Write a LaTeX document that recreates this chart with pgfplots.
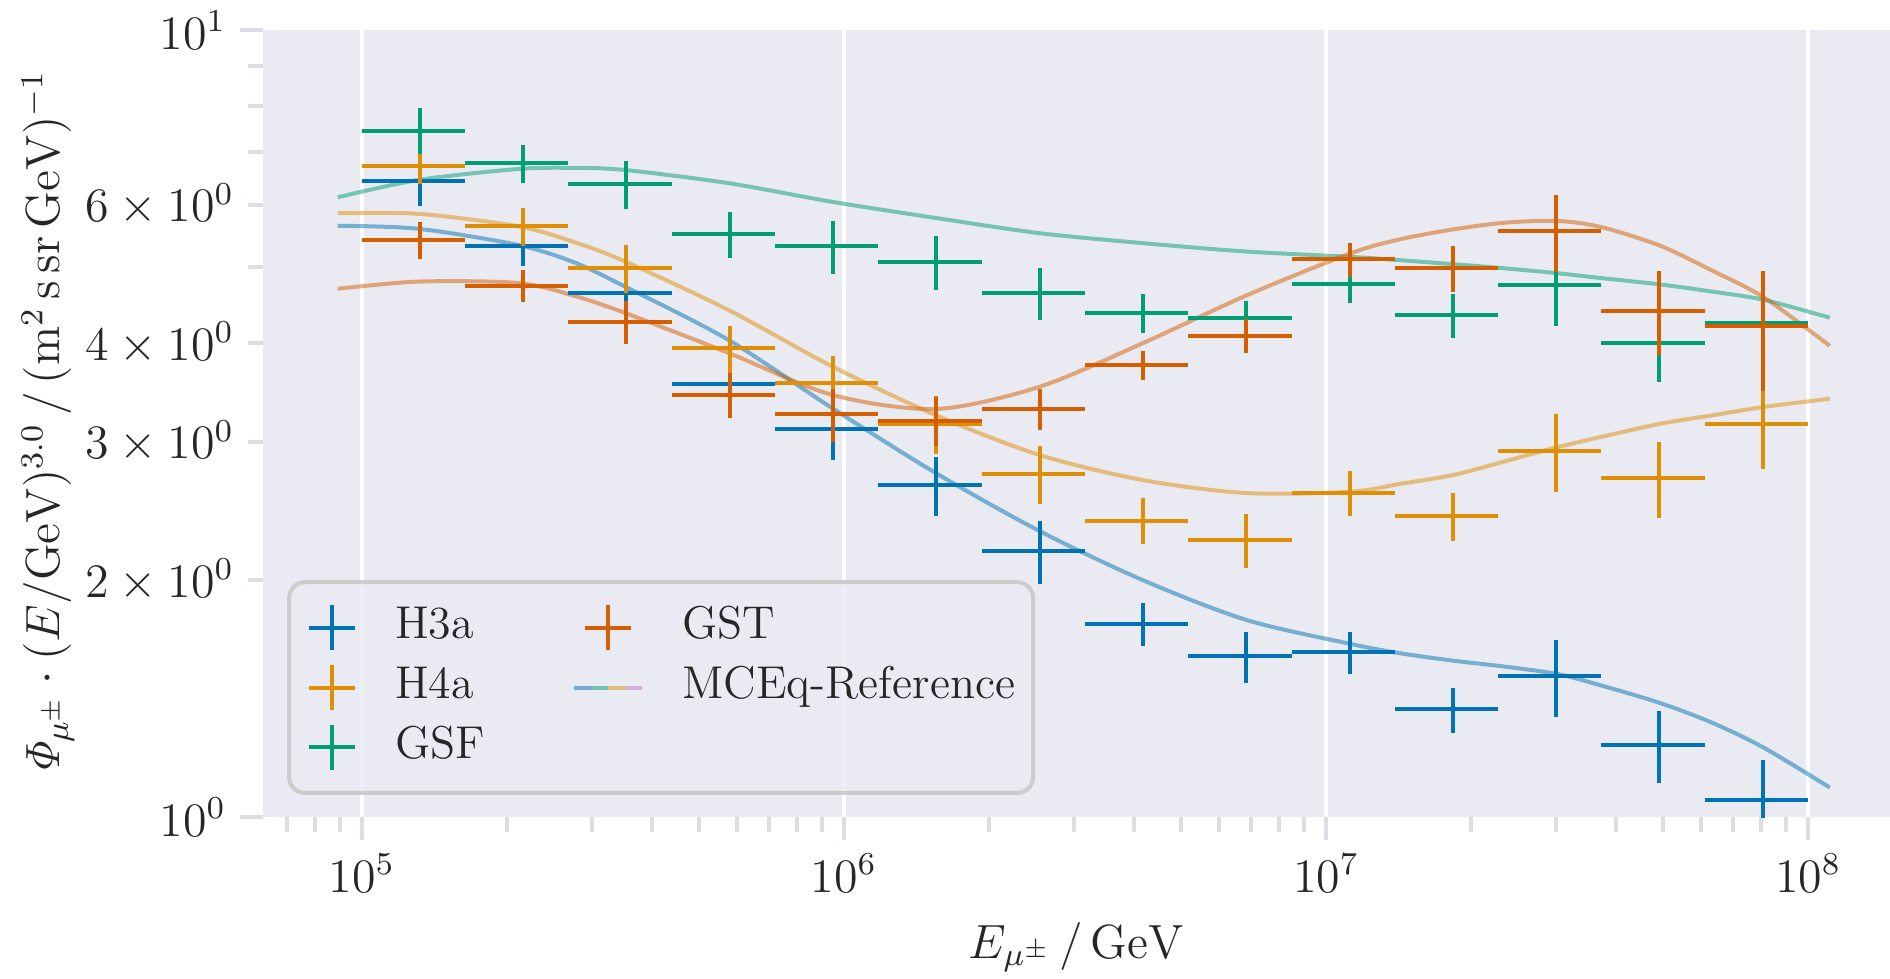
\documentclass[border=0pt]{standalone}
\usepackage{pgfplots}
\pgfplotsset{compat=1.18}
\usepackage{pgfplotstable}
\definecolor{bg}{HTML}{EAEAF2}
\definecolor{cA}{HTML}{0173B2}
\definecolor{cB}{HTML}{DE8F05}
\definecolor{cC}{HTML}{029E73}
\definecolor{cD}{HTML}{D55E00}
\definecolor{cE}{HTML}{CC78BC}
\definecolor{tickc}{HTML}{DDDDE6}
\definecolor{txt}{HTML}{262626}
\definecolor{legc}{HTML}{CCCCCC}

\pgfplotstableread{
x y ex ey
131895 6.43 31895 0.45
216030 5.32 52241 0.30
353834 4.63 85564 0.30
579542 3.55 140145 0.25
949228 3.11 229542 0.27
1554734 2.64 375965 0.23
2546488 2.18 615790 0.20
4170877 1.76 1008599 0.11
6831452 1.60 1651977 0.12
11189192 1.62 2705763 0.10
18326707 1.37 4431752 0.09
30017198 1.51 7258739 0.17
49164980 1.235 11889043 0.13
80527012 1.05 19472989 0.13
}\hthree

\pgfplotstableread{
x y ex ey
131895 6.72 31895 0.34
216030 5.63 52241 0.31
353834 4.98 85564 0.35
579542 3.94 140145 0.27
949228 3.56 229542 0.29
1554734 3.16 375965 0.27
2546488 2.73 615790 0.23
4170877 2.38 1008599 0.16
6831452 2.25 1651977 0.18
11189192 2.58 2705763 0.17
18326707 2.41 4431752 0.17
30017198 2.92 7258739 0.33
49164980 2.70 11889043 0.30
80527012 3.16 19472989 0.39
}\hfour

\pgfplotstableread{
x y ex ey
131895 7.45 31895 0.50
216030 6.77 52241 0.37
353834 6.37 85564 0.44
579542 5.50 140145 0.37
949228 5.31 229542 0.41
1554734 5.07 375965 0.40
2546488 4.63 615790 0.35
4170877 4.37 1008599 0.25
6831452 4.30 1651977 0.22
11189192 4.76 2705763 0.26
18326707 4.34 4431752 0.28
30017198 4.74 7258739 0.53
49164980 4.00 11889043 0.43
80527012 4.24 19472989 0.40
}\gsf

\pgfplotstableread{
x y ex ey
131895 5.41 31895 0.29
216030 4.73 52241 0.22
353834 4.26 85564 0.27
579542 3.44 140145 0.23
949228 3.25 229542 0.25
1554734 3.19 375965 0.23
2546488 3.30 615790 0.20
4170877 3.75 1008599 0.16
6831452 4.09 1651977 0.20
11189192 5.11 2705763 0.26
18326707 4.98 4431752 0.33
30017198 5.55 7258739 0.63
49164980 4.40 11889043 0.54
80527012 4.21 19472989 0.73
}\gst

\pgfplotstableread{
x a b c d
89125 5.64 5.85 6.13 4.69
131100 5.59 5.84 6.45 4.79
211350 5.33 5.63 6.66 4.77
277330 5.06 5.37 6.68 4.59
351560 4.72 5.08 6.64 4.37
575440 4.04 4.41 6.39 3.89
944060 3.31 3.74 6.05 3.44
1552300 2.735 3.24 5.77 3.30
2541000 2.31 2.885 5.52 3.52
4168700 2.00 2.68 5.36 4.00
6839100 1.78 2.58 5.23 4.60
11220000 1.66 2.59 5.15 5.20
14223000 1.615 2.65 5.10 5.42
18365000 1.58 2.72 5.04 5.58
23442000 1.553 2.83 4.98 5.69
30130000 1.52 2.95 4.91 5.72
37154000 1.47 3.04 4.84 5.62
49317000 1.396 3.16 4.75 5.32
63533000 1.316 3.24 4.65 4.94
81096000 1.224 3.32 4.54 4.57
110920000 1.09 3.40 4.31 3.97
}\mceq

\begin{document}
\begin{tikzpicture}
\begin{axis}[
  scale only axis,
  width=406.75pt, height=196.75pt,
  xmode=log, ymode=log,
  xmin=62390, xmax=1.479e8, ymin=1, ymax=10,
  axis background/.style={fill=bg},
  axis line style={draw=none},
  xtick={1e5,1e6,1e7,1e8},
  minor xtick={7e4,8e4,9e4,2e5,3e5,4e5,5e5,6e5,7e5,8e5,9e5,2e6,3e6,4e6,5e6,6e6,7e6,8e6,9e6,2e7,3e7,4e7,5e7,6e7,7e7,8e7,9e7},
  ytick={1,10},
  minor ytick={5,7,8,9},
  extra y ticks={2,3,4,6},
  extra y tick labels={$2\times10^{0}$,$3\times10^{0}$,$4\times10^{0}$,$6\times10^{0}$},
  extra y tick style={grid=none, major tick length=3.75pt},
  xtick pos=bottom, ytick pos=left,
  tick align=outside,
  major tick length=5.75pt, minor tick length=3.75pt,
  tick style={draw=tickc, line width=1pt},
  xmajorgrids=true, ymajorgrids=false,
  major grid style={white, line width=0.85pt},
  ticklabel style={font=\fontsize{12}{14}\selectfont, text=txt},
  label style={font=\fontsize{12}{14}\selectfont, text=txt},
  xlabel={$E_{\mu^\pm}\,/\,\mathrm{GeV}$},
  ylabel={$\mathit{\Phi}_{\mu^\pm}\cdot(E/\mathrm{GeV})^{3.0}\,/\,(\mathrm{m}^2\,\mathrm{s}\,\mathrm{sr}\,\mathrm{GeV})^{-1}$},
  xlabel style={at={(axis description cs:0.5,-0.1792)}, anchor=base},
  ylabel style={at={(axis description cs:-0.1322,0.5)}, anchor=center},
  legend style={
    at={(axis description cs:0.0148,0.028)}, anchor=south west,
    draw=legc, line width=1pt, rounded corners=4pt,
    fill=bg, fill opacity=0.8, text opacity=1, draw opacity=1,
    font=\fontsize{11.5}{13}\selectfont, text=txt,
    inner xsep=4.5pt, inner ysep=5.3pt,
    column sep=9.5pt, row sep=2.75pt,
    nodes={inner sep=0pt, text height=8.2pt, text depth=2.8pt},
  },
  legend cell align=left,
  legend columns=2,
]
\addplot[cA, opacity=0.5, line width=1pt, smooth, forget plot] table[x=x, y=a] {\mceq};
\addplot[cB, opacity=0.5, line width=1pt, smooth, forget plot] table[x=x, y=b] {\mceq};
\addplot[cC, opacity=0.5, line width=1pt, smooth, forget plot] table[x=x, y=c] {\mceq};
\addplot[cD, opacity=0.5, line width=1pt, smooth, forget plot] table[x=x, y=d] {\mceq};

\addplot[draw=none, mark=none, forget plot, error bars/.cd, x dir=both, x explicit, y dir=both, y explicit, error mark=none, error bar style={draw=cA, line width=1pt}] table[x=x, y=y, x error=ex, y error=ey] {\hthree};
\addplot[draw=none, mark=none, forget plot, error bars/.cd, x dir=both, x explicit, y dir=both, y explicit, error mark=none, error bar style={draw=cB, line width=1pt}] table[x=x, y=y, x error=ex, y error=ey] {\hfour};
\addplot[draw=none, mark=none, forget plot, error bars/.cd, x dir=both, x explicit, y dir=both, y explicit, error mark=none, error bar style={draw=cC, line width=1pt}] table[x=x, y=y, x error=ex, y error=ey] {\gsf};
\addplot[draw=none, mark=none, forget plot, error bars/.cd, x dir=both, x explicit, y dir=both, y explicit, error mark=none, error bar style={draw=cD, line width=1pt}] table[x=x, y=y, x error=ex, y error=ey] {\gst};

\addlegendimage{legend image code/.code={\draw[cA, line width=1pt] (2.75pt,0pt) -- (14.25pt,0pt); \draw[cA, line width=1pt] (8.5pt,-5.6pt) -- (8.5pt,5.6pt);}}
\addlegendentry{H3a}
\addlegendimage{legend image code/.code={\path (-12.4pt,0pt); \draw[cD, line width=1pt] (2.75pt,0pt) -- (14.25pt,0pt); \draw[cD, line width=1pt] (8.5pt,-5.6pt) -- (8.5pt,5.6pt);}}
\addlegendentry{GST}
\addlegendimage{legend image code/.code={\draw[cB, line width=1pt] (2.75pt,0pt) -- (14.25pt,0pt); \draw[cB, line width=1pt] (8.5pt,-5.6pt) -- (8.5pt,5.6pt);}}
\addlegendentry{H4a}
\addlegendimage{legend image code/.code={\path (-12.4pt,0pt); \draw[cA, opacity=0.5, line width=1pt] (0pt,0pt) -- (4.25pt,0pt); \draw[cC, opacity=0.5, line width=1pt] (4.25pt,0pt) -- (8.5pt,0pt); \draw[cB, opacity=0.5, line width=1pt] (8.5pt,0pt) -- (12.75pt,0pt); \draw[cE, opacity=0.5, line width=1pt] (12.75pt,0pt) -- (17pt,0pt);}}
\addlegendentry{MCEq-Reference}
\addlegendimage{legend image code/.code={\draw[cC, line width=1pt] (2.75pt,0pt) -- (14.25pt,0pt); \draw[cC, line width=1pt] (8.5pt,-5.6pt) -- (8.5pt,5.6pt);}}
\addlegendentry{GSF}
\end{axis}
\pgfresetboundingbox
\path[use as bounding box] ([xshift=-65.75pt, yshift=-40.25pt]current axis.south west) rectangle ([yshift=7.5pt]current axis.north east);
\end{tikzpicture}
\end{document}
